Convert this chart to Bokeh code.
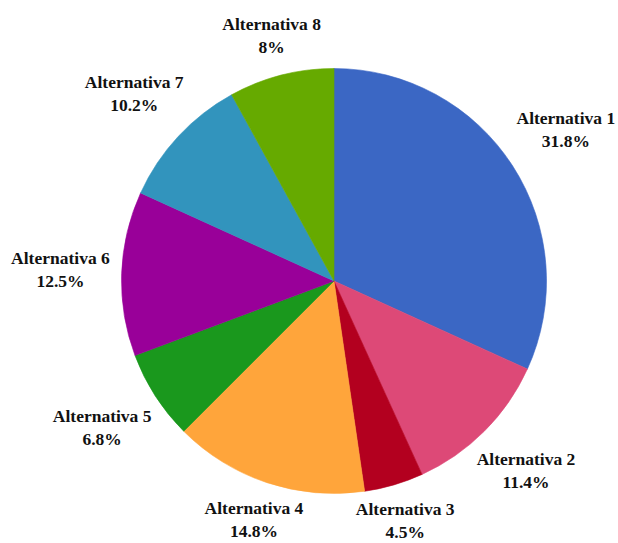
import math
from bokeh.plotting import figure
from bokeh.models import Range1d, ColumnDataSource
from bokeh.core.properties import value
from bokeh.embed import file_html
from bokeh.resources import INLINE

categories = ["Alternativa 1", "Alternativa 2", "Alternativa 3", "Alternativa 4",
              "Alternativa 5", "Alternativa 6", "Alternativa 7", "Alternativa 8"]
percentages = [31.8, 11.4, 4.5, 14.8, 6.8, 12.5, 10.2, 8.0]
colors = ["#3b67c4", "#dd4977", "#b3001f", "#ffa53b",
          "#1a981d", "#990099", "#3294bd", "#66aa00"]

W, H = 618, 543
cx, cy_screen = 333.5, 280.5
R = 212.5
cy = H - cy_screen

total = sum(percentages)
starts, ends, mids = [], [], []
cum = 0.0
for v in percentages:
    f0 = cum / total
    cum += v
    f1 = cum / total
    starts.append(math.pi / 2 - f0 * 2 * math.pi)
    ends.append(math.pi / 2 - f1 * 2 * math.pi)
    mids.append((f0 + f1) / 2 * 2 * math.pi)  # clockwise from top

def fmt(v):
    s = ("%.1f" % v).rstrip("0").rstrip(".")
    return s + "%"

hw, hh, gap, lift = 58.0, 22.0, 2.5, 2.5
lx, ly = [], []
for th in mids:
    s, c = math.sin(th), math.cos(th)
    d = R + gap + hw * abs(s) + hh * abs(c)
    lx.append(cx + d * s)
    ly.append(cy + d * c + lift)

src = ColumnDataSource(dict(
    start=starts, end=ends, color=colors,
    x=[cx] * len(percentages), y=[cy] * len(percentages),
))
lab = ColumnDataSource(dict(x=lx, y=ly, name=categories,
                            pct=[fmt(v) for v in percentages]))

p = figure(width=W, height=H, output_backend="svg", toolbar_location=None,
           x_range=Range1d(0, W), y_range=Range1d(0, H), min_border=0)
p.axis.visible = False
p.grid.visible = False
p.outline_line_color = None
p.background_fill_color = "white"
p.border_fill_color = "white"

p.wedge(x="x", y="y", radius=R, start_angle="start", end_angle="end",
        direction="clock", fill_color="color", line_color="color",
        line_width=0.6, source=src)

common = dict(text_font=value("Liberation Serif"), text_font_style="bold",
              text_font_size="17.5px", text_color="#111111",
              text_align="center", text_baseline="middle", source=lab)
p.text(x="x", y="y", text="name", y_offset=-11.5, **common)
p.text(x="x", y="y", text="pct", y_offset=11.5, **common)

open("out.html", "w").write(file_html(p, INLINE))
